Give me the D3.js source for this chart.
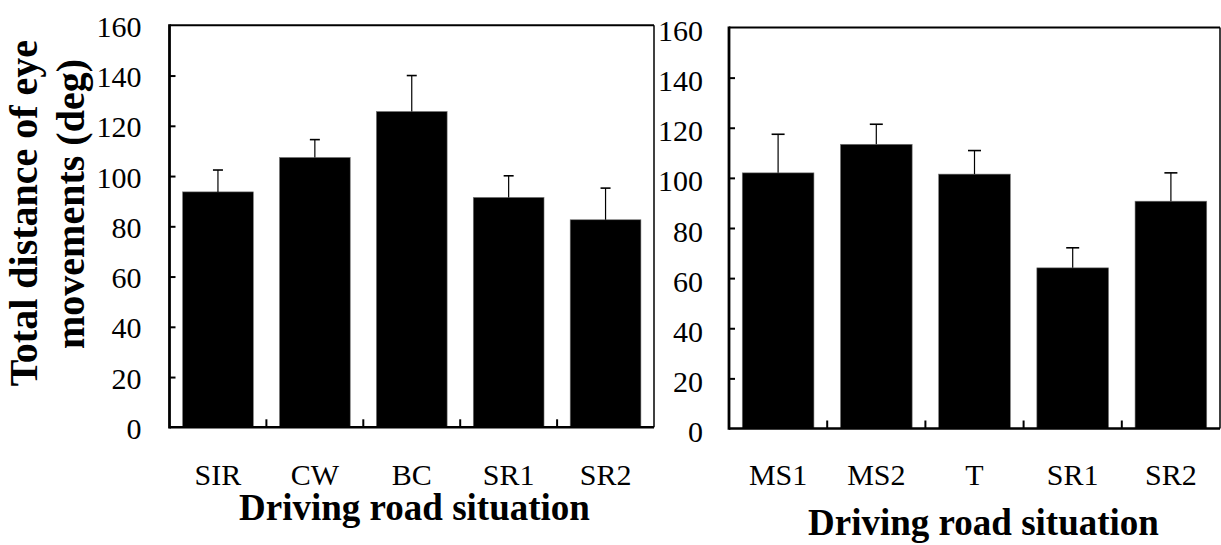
<!DOCTYPE html>
<html>
<head>
<meta charset="utf-8">
<script src="https://cdn.jsdelivr.net/npm/d3@7"></script>
<style>
  html, body { margin: 0; padding: 0; background: #fff; }
  svg text { font-family: "Liberation Serif", "Times New Roman", serif; fill: #000; }
</style>
</head>
<body>
<svg id="chart" width="1221" height="545"></svg>
<script>
// ---- data ----
const leftCategories = ["SIR", "CW", "BC", "SR1", "SR2"];
const leftMeans = [93.7, 107.4, 125.7, 91.5, 82.6];
const leftErrors = [8.7, 7.1, 14.3, 8.6, 12.6];

const rightCategories = ["MS1", "MS2", "T", "SR1", "SR2"];
const rightMeans = [102.0, 113.4, 101.5, 64.1, 90.7];
const rightErrors = [15.4, 8.0, 9.4, 8.0, 11.3];

const yTickValues = [0, 20, 40, 60, 80, 100, 120, 140, 160];
const xTitle = "Driving road situation";
const yTitleLines = ["Total distance of eye", "movements (deg)"];

const svg = d3.select("#chart");
const SERIF = '"Liberation Serif", "Times New Roman", serif';

function panel(cfg) {
  const { left, right, top, bottom, cats, means, errs, labelX, labelDy, catBaseline, titleX, titleBaseline, cap } = cfg;
  const x = d3.scaleBand().domain(cats).range([left, right]).paddingInner(0.27).paddingOuter(0.135);
  const y = d3.scaleLinear().domain([0, 160]).range([bottom, top]);
  const g = svg.append("g");

  // bars
  g.selectAll("rect.bar").data(cats).enter().append("rect")
    .attr("x", d => x(d)).attr("width", x.bandwidth())
    .attr("y", (d, i) => y(means[i])).attr("height", (d, i) => y(0) - y(means[i]))
    .attr("fill", "#000").attr("stroke", "#777").attr("stroke-width", 0.6);

  // error bars (upper only)
  const eb = g.selectAll("g.err").data(cats).enter().append("g");
  eb.append("line")
    .attr("x1", d => x(d) + x.bandwidth() / 2).attr("x2", d => x(d) + x.bandwidth() / 2)
    .attr("y1", (d, i) => y(means[i])).attr("y2", (d, i) => y(means[i] + errs[i]))
    .attr("stroke", "#000").attr("stroke-width", 1.2);
  eb.append("line")
    .attr("x1", d => x(d) + x.bandwidth() / 2 - cap / 2).attr("x2", d => x(d) + x.bandwidth() / 2 + cap / 2)
    .attr("y1", (d, i) => y(means[i] + errs[i])).attr("y2", (d, i) => y(means[i] + errs[i]))
    .attr("stroke", "#000").attr("stroke-width", 1.6);

  // y axis (inward ticks)
  const yAxis = d3.axisLeft(y).tickValues(yTickValues).tickSize(-6).tickPadding(labelX).tickFormat(d3.format("d"));
  const ya = g.append("g").attr("transform", `translate(${left},0)`).call(yAxis);
  ya.attr("font-family", SERIF);
  ya.select(".domain").remove();
  ya.selectAll(".tick line").attr("stroke", "#000").attr("stroke-width", 2)
    .filter(d => d === 0 || d === 160).remove();
  ya.selectAll(".tick text").attr("font-size", 30).attr("dy", labelDy);

  // x axis: category labels
  const xAxis = d3.axisBottom(x).tickSize(0).tickPadding(0);
  const xa = g.append("g").attr("transform", `translate(0,${bottom})`).call(xAxis);
  xa.attr("font-family", SERIF);
  xa.select(".domain").remove();
  xa.selectAll(".tick text").attr("font-size", 30).attr("y", catBaseline - bottom).attr("dy", 0);

  // x boundary ticks (inward)
  const step = x.step();
  const bounds = cats.slice(1).map(d => x(d) - x.paddingInner() * step / 2);
  g.selectAll("line.xt").data(bounds).enter().append("line")
    .attr("x1", d => d).attr("x2", d => d).attr("y1", bottom).attr("y2", bottom - 8)
    .attr("stroke", "#000").attr("stroke-width", 2);

  // frame
  g.append("line").attr("x1", left).attr("x2", right).attr("y1", top).attr("y2", top).attr("stroke", "#000").attr("stroke-width", 2);
  g.append("line").attr("x1", right).attr("x2", right).attr("y1", top).attr("y2", bottom).attr("stroke", "#000").attr("stroke-width", 1.5);
  g.append("line").attr("x1", left).attr("x2", right).attr("y1", bottom).attr("y2", bottom).attr("stroke", "#000").attr("stroke-width", 2.5);
  g.append("line").attr("x1", left).attr("x2", left).attr("y1", top - 1).attr("y2", bottom + 1.2).attr("stroke", "#000").attr("stroke-width", 2.8);

  // x title
  svg.append("text").attr("x", titleX).attr("y", titleBaseline).attr("text-anchor", "middle")
    .attr("font-size", 37).attr("font-weight", "bold").text(xTitle);
}

panel({ left: 169.5, right: 654, top: 25.3, bottom: 427.3, cats: leftCategories, means: leftMeans, errs: leftErrors,
        labelX: 28, labelDy: 11, catBaseline: 485, titleX: 414.5, titleBaseline: 520, cap: 10 });
panel({ left: 729, right: 1220, top: 27.5, bottom: 428.5, cats: rightCategories, means: rightMeans, errs: rightErrors,
        labelX: 26, labelDy: 13, catBaseline: 485, titleX: 983.5, titleBaseline: 535, cap: 13 });

// y title (two lines, rotated)
const yt = svg.append("g");
yt.append("text").attr("transform", "translate(37,213) rotate(-90)").attr("text-anchor", "middle")
  .attr("font-size", 40).attr("font-weight", "bold").text(yTitleLines[0]);
yt.append("text").attr("transform", "translate(84,204) rotate(-90)").attr("text-anchor", "middle")
  .attr("font-size", 40).attr("font-weight", "bold").text(yTitleLines[1]);
</script>
</body>
</html>
